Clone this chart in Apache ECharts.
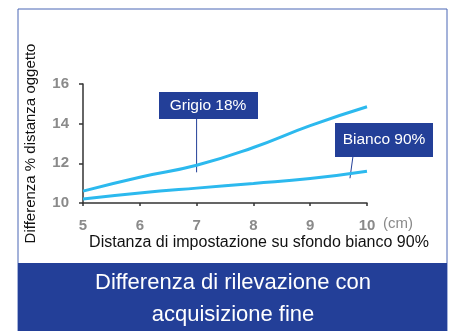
<!DOCTYPE html>
<html>
<head>
<meta charset="utf-8">
<script src="https://cdn.jsdelivr.net/npm/echarts@6/dist/echarts.min.js"></script>
<style>
  html, body { margin: 0; padding: 0; background: #fff; }
  #chart { width: 449px; height: 331px; }
</style>
</head>
<body>
<div id="chart"></div>
<script>
// distanza (cm)
const distances = [5, 6, 7, 8, 9, 10]
// differenza % distanza oggetto
const grigio18 = [10.6, 11.3, 11.9, 12.8, 13.9, 14.85]
const bianco90 = [10.2, 10.5, 10.75, 10.98, 11.23, 11.6]
const yTicks = [10, 12, 14, 16]

const font = '"Liberation Sans", Arial, sans-serif'
const lineColor = '#2cb9ee'
const navy = '#233f98'

const chart = echarts.init(document.getElementById('chart'))

chart.setOption({
  animation: false,
  backgroundColor: '#fff',
  grid: { left: 83, right: 82, top: 84, bottom: 128 },
  xAxis: {
    type: 'value', min: distances[0], max: distances[distances.length - 1], interval: 1,
    axisLine: { lineStyle: { color: '#333', width: 1.5 } },
    axisTick: { show: true, length: 3, lineStyle: { color: '#333', width: 1.5 } },
    axisLabel: { color: '#8a8a8a', fontWeight: 'bold', fontSize: 15, fontFamily: font, margin: 15 },
    splitLine: { show: false }
  },
  yAxis: {
    type: 'value', min: yTicks[0], max: yTicks[yTicks.length - 1], interval: 2,
    name: 'Differenza % distanza oggetto', nameLocation: 'middle', nameGap: 45,
    nameTextStyle: { color: '#111', fontSize: 15, fontFamily: font },
    axisLine: { show: true, lineStyle: { color: '#333', width: 1.5 } },
    axisTick: { show: true, length: 4, lineStyle: { color: '#333', width: 1.5 } },
    axisLabel: { color: '#8a8a8a', fontWeight: 'bold', fontSize: 15, fontFamily: font, margin: 14 },
    splitLine: { show: false }
  },
  series: [
    {
      name: 'Grigio 18%', type: 'line', smooth: true, symbol: 'none',
      data: distances.map((d, i) => [d, grigio18[i]]),
      lineStyle: { color: lineColor, width: 3 }
    },
    {
      name: 'Bianco 90%', type: 'line', smooth: true, symbol: 'none',
      data: distances.map((d, i) => [d, bianco90[i]]),
      lineStyle: { color: lineColor, width: 3 }
    }
  ]
})

// callout boxes anchored on curve points
const pG = chart.convertToPixel({ gridIndex: 0 }, [7, grigio18[2]])
const pB = chart.convertToPixel({ gridIndex: 0 }, [9.7, 11.5])

chart.setOption({
  graphic: [
    { type: 'rect', shape: { x: 18, y: 9, width: 429, height: 330 }, style: { fill: 'none', stroke: '#4a67b5', lineWidth: 1 }, z: 1 },
    { type: 'rect', shape: { x: 18, y: 263, width: 429, height: 70 }, style: { fill: navy }, z: 2 },
    { type: 'text', x: 233, y: 283, style: { text: 'Differenza di rilevazione con', fill: '#fff', font: '22px ' + font, align: 'center', verticalAlign: 'middle' }, z: 3 },
    { type: 'text', x: 233, y: 315, style: { text: 'acquisizione fine', fill: '#fff', font: '22px ' + font, align: 'center', verticalAlign: 'middle' }, z: 3 },
    { type: 'text', x: 259, y: 243, style: { text: 'Distanza di impostazione su sfondo bianco 90%', fill: '#111', font: '16px ' + font, align: 'center', verticalAlign: 'middle' }, z: 3 },
    { type: 'text', x: 383, y: 224, style: { text: '(cm)', fill: '#8a8a8a', font: '15px ' + font, align: 'left', verticalAlign: 'middle' }, z: 3 },
    { type: 'line', shape: { x1: pG[0], y1: 118, x2: pG[0], y2: pG[1] + 7 }, style: { stroke: navy, lineWidth: 1 }, z: 3 },
    { type: 'rect', shape: { x: 159, y: 92, width: 99, height: 27 }, style: { fill: navy }, z: 3 },
    { type: 'text', x: 208, y: 106, style: { text: 'Grigio 18%', fill: '#fff', font: '15.5px ' + font, align: 'center', verticalAlign: 'middle' }, z: 4 },
    { type: 'line', shape: { x1: 353, y1: 156, x2: pB[0], y2: pB[1] + 5 }, style: { stroke: navy, lineWidth: 1 }, z: 3 },
    { type: 'rect', shape: { x: 335, y: 123, width: 98, height: 34 }, style: { fill: navy }, z: 3 },
    { type: 'text', x: 384, y: 140, style: { text: 'Bianco 90%', fill: '#fff', font: '15.5px ' + font, align: 'center', verticalAlign: 'middle' }, z: 4 }
  ]
})
</script>
</body>
</html>
